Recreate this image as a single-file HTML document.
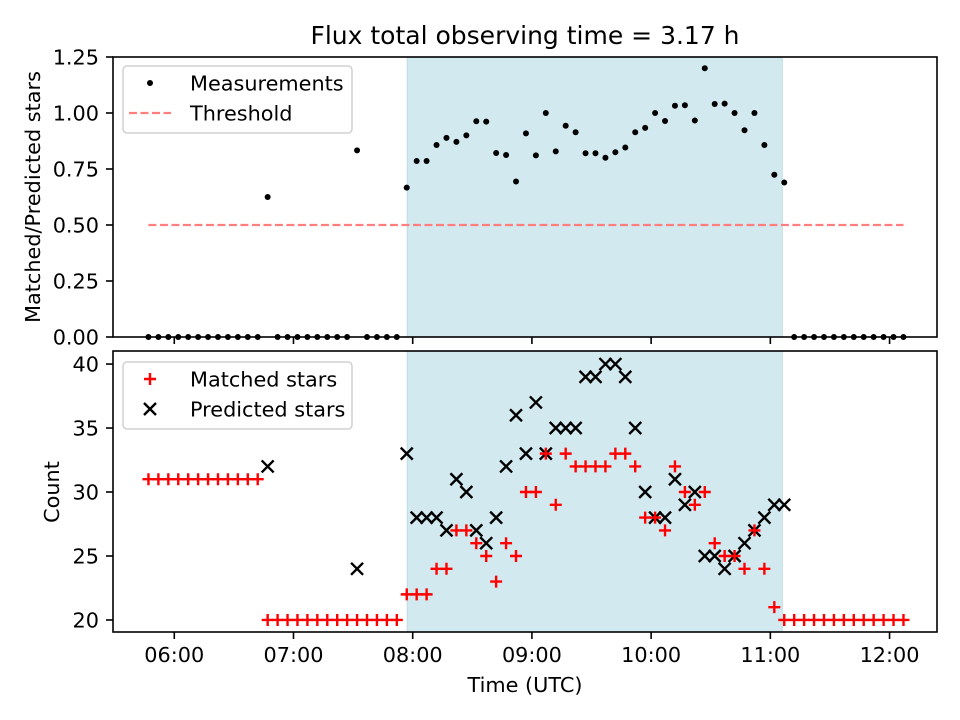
<!DOCTYPE html>
<html><head><meta charset="utf-8">
<style>
html,body{margin:0;padding:0;background:#fff;}
svg{display:block;font-family:"DejaVu Sans","Liberation Sans",sans-serif;}
</style></head>
<body>
<svg id="chart" width="960" height="720" viewBox="0 0 960 720" xmlns="http://www.w3.org/2000/svg"></svg>
<script>
// ---- data ----
const startMinutes = 347; // 05:47 UTC
const stepMinutes = 5;
const matchedStars = [31,31,31,31,31,31,31,31,31,31,31,31,
  20,20,20,20,20,20,20,20,20,20,20,20,20,20,
  22,22,22,24,24,27,27,26,25,23,26,25,30,30,33,29,33,32,32,32,32,33,33,32,
  28,28,27,32,30,29,30,26,25,25,24,27,24,21,20,
  20,20,20,20,20,20,20,20,20,20,20,20];
const predictedStars = [0,0,0,0,0,0,0,0,0,0,0,0,
  32,0,0,0,0,0,0,0,0,24,0,0,0,0,
  33,28,28,28,27,31,30,27,26,28,32,36,33,37,33,35,35,35,39,39,40,40,39,35,
  30,28,28,31,29,30,25,25,24,25,26,27,28,29,29,
  0,0,0,0,0,0,0,0,0,0,0,0];
const threshold = 0.5;
const shadeStartH = 7.954, shadeEndH = 11.10;
const xTickLabels = ["06:00","07:00","08:00","09:00","10:00","11:00","12:00"];
const xTickHours = [6,7,8,9,10,11,12];
const topYTicks = [0,0.25,0.5,0.75,1.0,1.25];
const topYLabels = ["0.00","0.25","0.50","0.75","1.00","1.25"];
const botYTicks = [20,25,30,35,40];

// ---- scales ----
const L=113,R=937;
const xMin=5.486,xMax=12.398;
const X=h=>L+(h-xMin)/(xMax-xMin)*(R-L);
const T1=57,B1=337, yT=v=>B1-(v-0)/(1.25-0)*(B1-T1);
const T2=351,B2=632, y2min=19.06,y2max=41.02;
const yB=v=>B2-(v-y2min)/(y2max-y2min)*(B2-T2);
const timeH=i=>(startMinutes+stepMinutes*i)/60;

const svg=document.getElementById('chart');
const NS="http://www.w3.org/2000/svg";
function mk(tag,attrs,parent){const e=document.createElementNS(NS,tag);for(const k in attrs)e.setAttribute(k,attrs[k]);(parent||svg).appendChild(e);return e;}
function txt(s,attrs,parent){const e=mk('text',attrs,parent);e.textContent=s;return e;}

const F='font-size:20.8px;fill:#000';
let e=txt('Flux total observing time = 3.17 h',{x:525,y:44,'text-anchor':'middle',style:'font-size:25px'});



function panel(T,B,name,yfn,yt,yl){
  const g=mk('g',{});
  
  
  const sh=mk('rect',{x:X(shadeStartH),y:T,width:X(shadeEndH)-X(shadeStartH),height:B-T,fill:'#d3e9f0',stroke:'#bcdde6','stroke-width':1},g);
  
  
  xTickHours.forEach((h,i)=>{mk('line',{x1:X(h),x2:X(h),y1:B,y2:B+7,stroke:'#000','stroke-width':1.6},g);});
  yt.forEach((v,i)=>{
    mk('line',{x1:L-7,x2:L,y1:yfn(v),y2:yfn(v),stroke:'#000','stroke-width':1.6},g);
    const t=txt(yl[i],{x:L-14,y:yfn(v)+7.5,'text-anchor':'end',style:F},g);
    
    
  });
  return g;
}
const g1=panel(T1,B1,'ratio-panel',yT,topYTicks,topYLabels);
const g2=panel(T2,B2,'count-panel',yB,botYTicks,botYTicks.map(String));

const th=mk('line',{x1:X(timeH(0)),x2:X(timeH(matchedStars.length-1)),y1:yT(threshold),y2:yT(threshold),stroke:'#ff7f7f','stroke-width':2.2,'stroke-dasharray':'8,3.5'},g1);



matchedStars.forEach((m,i)=>{
  const p=predictedStars[i];
  const r=p>0?m/p:0;
  const c=mk('circle',{cx:X(timeH(i)),cy:yT(r),r:3,fill:'#000'},g1);
  
  
});
predictedStars.forEach((p,i)=>{
  if(p<y2min) return;
  const cx=X(timeH(i)),cy=yB(p),s=6;
  const pth=mk('path',{d:`M${cx-s},${cy-s}L${cx+s},${cy+s}M${cx-s},${cy+s}L${cx+s},${cy-s}`,stroke:'#000','stroke-width':2.4},g2);
  
  
});
matchedStars.forEach((m,i)=>{
  const cx=X(timeH(i)),cy=yB(m),s=6;
  const pth=mk('path',{d:`M${cx-s},${cy}L${cx+s},${cy}M${cx},${cy-s}L${cx},${cy+s}`,stroke:'#ff0000','stroke-width':2.4},g2);
  
  
});

mk('rect',{x:L,y:T1,width:R-L,height:B1-T1,fill:'none',stroke:'#000','stroke-width':1.6},g1);
mk('rect',{x:L,y:T2,width:R-L,height:B2-T2,fill:'none',stroke:'#000','stroke-width':1.6},g2);

xTickHours.forEach((h,i)=>{
  const t=txt(xTickLabels[i],{x:X(h),y:B2+30,'text-anchor':'middle',style:F});
  
  
});
e=txt('Time (UTC)',{x:525,y:692,'text-anchor':'middle',style:F});


e=txt('Matched/Predicted stars',{x:0,y:0,'text-anchor':'middle',style:F,transform:'translate(40,197) rotate(-90)'});


e=txt('Count',{x:0,y:0,'text-anchor':'middle',style:F,transform:'translate(59,492) rotate(-90)'});



function legend(y,name,items){
  const g=mk('g',{});
  
  
  mk('rect',{x:123,y:y,width:229,height:67,rx:4,fill:'#fff','fill-opacity':0.85,stroke:'#d0d0d0','stroke-width':1.5},g);
  items.forEach((it,k)=>{
    const cy=y+17+k*30;
    it.draw(g,150,cy);
    const t=txt(it.label,{x:190,y:cy+7.5,style:F},g);
    
    
  });
}
legend(66,'top-legend',[
  {label:'Measurements',draw:(g,x,y)=>mk('circle',{cx:x,cy:y,r:3,fill:'#000'},g)},
  {label:'Threshold',draw:(g,x,y)=>mk('line',{x1:x-21,x2:x+21,y1:y,y2:y,stroke:'#ff7f7f','stroke-width':2.2,'stroke-dasharray':'8,3.5'},g)}
]);
legend(362,'bottom-legend',[
  {label:'Matched stars',draw:(g,x,y)=>mk('path',{d:`M${x-6},${y}L${x+6},${y}M${x},${y-6}L${x},${y+6}`,stroke:'#f00','stroke-width':2.4},g)},
  {label:'Predicted stars',draw:(g,x,y)=>mk('path',{d:`M${x-6},${y-6}L${x+6},${y+6}M${x-6},${y+6}L${x+6},${y-6}`,stroke:'#000','stroke-width':2.4},g)}
]);
</script>
</body></html>
